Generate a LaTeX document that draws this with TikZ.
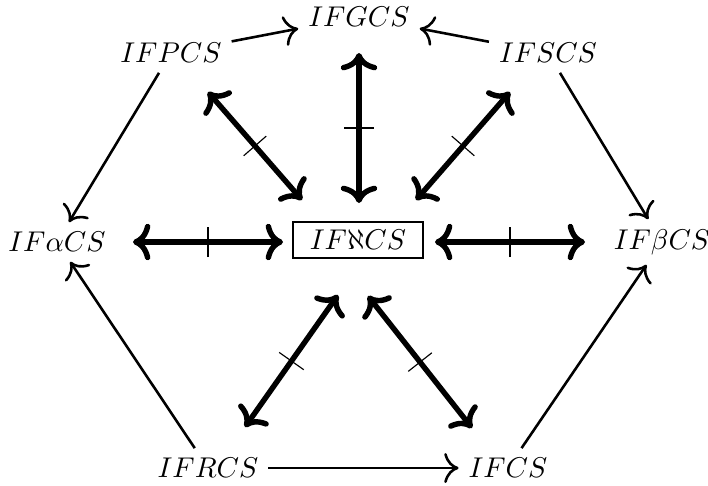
\documentclass[tikz,border=0pt]{standalone}
\usetikzlibrary{decorations.markings, arrows.meta}
\tikzset{
  lbl/.style={inner sep=3.33pt},
  thinarr/.style={-{Computer Modern Rightarrow[scale=1.4]}, line width=0.9pt},
  thickarr/.style={{Computer Modern Rightarrow[scale=1.05]}-{Computer Modern Rightarrow[scale=1.05]}, line width=1.9pt,
    postaction={decorate, decoration={markings,
      mark=at position 0.5 with {\draw[-, line width=0.4pt] (0,-5.25pt) -- (0,5.25pt);}}}},
}
\begin{document}
\begin{tikzpicture}[x=0.35pt, y=-0.35pt]
\useasboundingbox (0,0) rectangle (708,485);
% labels
\node[lbl] (G) at (359,17) {$IFGCS$};
\node[lbl] (P) at (171,53) {$IFPCS$};
\node[lbl] (S) at (548,53) {$IFSCS$};
\node[lbl] (A) at (57,242) {$IF\alpha CS$};
\node[lbl] (B) at (662,242) {$IF\beta CS$};
\node[lbl] (R) at (208,468) {$IFRCS$};
\node[lbl] (C) at (508,468) {$IFCS$};
\node[draw, line width=0.5pt, minimum width=45.5pt, minimum height=12.6pt, inner xsep=0.5pt, inner ysep=2pt] (N) at (358,240) {$IF\aleph CS$\hspace{9pt}};
% thin arrows
\draw[thinarr] (P) -- (G);
\draw[thinarr] (S) -- (G);
\draw[thinarr] (P) -- (A);
\draw[thinarr] (S) -- (B);
\draw[thinarr] (R) -- (A);
\draw[thinarr] (C) -- (B);
\draw[thinarr] (R) -- (C);
% thick arrow end points
\coordinate (a1) at (133,242); \coordinate (a2) at (283,242);
\coordinate (b1) at (435,242); \coordinate (b2) at (585,242);
\coordinate (g1) at (359,53);  \coordinate (g2) at (359,203);
\coordinate (p1) at (208,92);  \coordinate (p2) at (302,200);
\coordinate (s1) at (510,92);  \coordinate (s2) at (416,200);
\coordinate (l1) at (245,427); \coordinate (l2) at (338,295);
\coordinate (r1) at (472,428); \coordinate (r2) at (368,296);
% thick arrows
\draw[thickarr] (a1) -- (a2);
\draw[thickarr] (b1) -- (b2);
\draw[thickarr] (g1) -- (g2);
\draw[thickarr] (p1) -- (p2);
\draw[thickarr] (s1) -- (s2);
\draw[thickarr] (l1) -- (l2);
\draw[thickarr] (r1) -- (r2);
\end{tikzpicture}
\end{document}
